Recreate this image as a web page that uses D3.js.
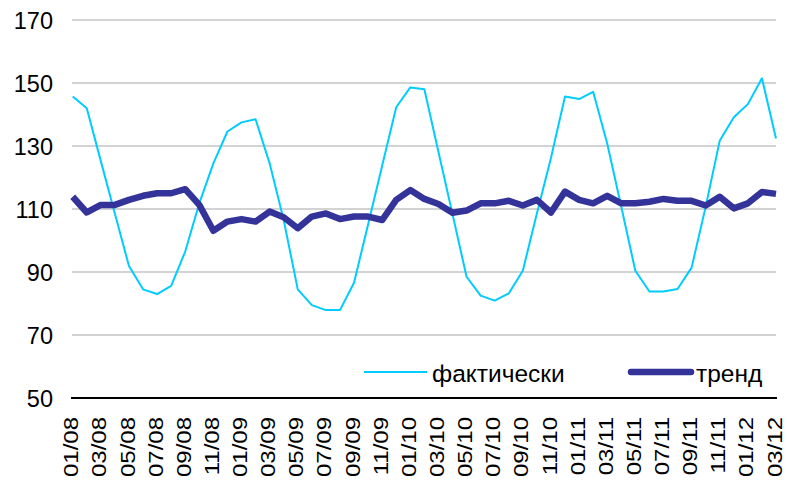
<!DOCTYPE html>
<html><head><meta charset="utf-8">
<script src="https://cdn.jsdelivr.net/npm/d3@7"></script>
<style>body{margin:0;background:#fff}text{font-family:"Liberation Sans",Arial,sans-serif}</style>
</head><body><svg id="c" width="787" height="480"></svg>
<script>
const months = [];
for (let y = 8; y <= 12; y++) for (let m = 1; m <= 12; m++) {
  if (y === 12 && m > 3) break;
  months.push(String(m).padStart(2,"0") + "/" + String(y).padStart(2,"0"));
}
const actual = [145.7,142.0,125.2,108.5,91.9,84.5,83.0,85.6,96.5,111.8,124.5,134.6,137.5,138.5,124.5,106.5,84.5,
  79.5,77.9,77.9,86.6,105.1,123.7,142.3,148.6,148.0,128.2,108.4,88.5,82.5,80.9,83.2,90.4,108.6,
  126.2,145.7,144.9,147.2,130.8,110.7,90.4,83.8,83.8,84.6,91.4,110.7,131.7,139.1,143.3,151.5,132.4];
const trend = [113.9,108.9,111.3,111.3,112.9,114.2,115.0,115.0,116.3,111.3,103.1,106.0,106.8,106.0,109.2,107.4,103.9,
  107.6,108.6,106.8,107.6,107.6,106.5,112.9,116.0,113.2,111.6,108.8,109.5,111.8,111.8,112.6,111.1,112.9,
  108.9,115.5,112.9,111.8,114.2,111.8,111.8,112.3,113.2,112.6,112.6,111.1,113.9,110.2,111.8,115.4,114.8];
const yTicks = [50,70,90,110,130,150,170];
const seriesNames = ["фактически","тренд"];
const colors = ["#00CCFF","#333399"];

const svg = d3.select("#c");
const x = d3.scalePoint().domain(months).range([72.7, 776]);
const y = d3.scaleLinear().domain([50,170]).range([398, 20]);

svg.append("g").selectAll("line").data(yTicks.filter(d=>d>50)).join("line")
  .attr("x1",72).attr("x2",776).attr("y1",d=>y(d)).attr("y2",d=>y(d))
  .attr("stroke","#c4c4c4").attr("stroke-width",1.3);

const ya = svg.append("g").attr("transform","translate(53,0)")
  .call(d3.axisLeft(y).tickValues(yTicks).tickSize(0).tickPadding(0));
ya.select(".domain").remove();
ya.selectAll("text").attr("font-size",23.5).attr("fill","#000").attr("font-family","Liberation Sans, Arial, sans-serif").attr("dy","0.36em");

const xa = svg.append("g").attr("transform","translate(0,398)")
  .call(d3.axisBottom(x).tickValues(months.filter((d,i)=>i%2===0)).tickSize(0).tickPadding(0));
xa.select(".domain").attr("d","M71,0H777").attr("stroke","#000").attr("stroke-width",2.2);
xa.selectAll("text").attr("font-size",24).attr("fill","#000").attr("font-family","Liberation Sans, Arial, sans-serif")
  .attr("text-anchor","end").attr("transform","translate(-2,0) rotate(-90) scale(1,0.82)").attr("x",-19).attr("y",0).attr("dy","0.36em");

const line = d3.line().x((d,i)=>x(months[i])).y(d=>y(d));
svg.append("path").datum(actual).attr("d",line).attr("fill","none").attr("stroke",colors[0]).attr("stroke-width",2).attr("stroke-linejoin","round");
svg.append("path").datum(trend).attr("d",line).attr("fill","none").attr("stroke",colors[1]).attr("stroke-width",6.5).attr("stroke-linejoin","round");

// legend
const lg = svg.append("g");
lg.append("line").attr("x1",364).attr("x2",427).attr("y1",372).attr("y2",372).attr("stroke",colors[0]).attr("stroke-width",2);
lg.append("text").attr("x",432).attr("y",382).attr("font-size",24.5).text(seriesNames[0]);
lg.append("line").attr("x1",631).attr("x2",691).attr("y1",372).attr("y2",372).attr("stroke",colors[1]).attr("stroke-width",6.5).attr("stroke-linecap","round");
lg.append("text").attr("x",696).attr("y",382).attr("font-size",24.5).text(seriesNames[1]);
</script></body></html>
